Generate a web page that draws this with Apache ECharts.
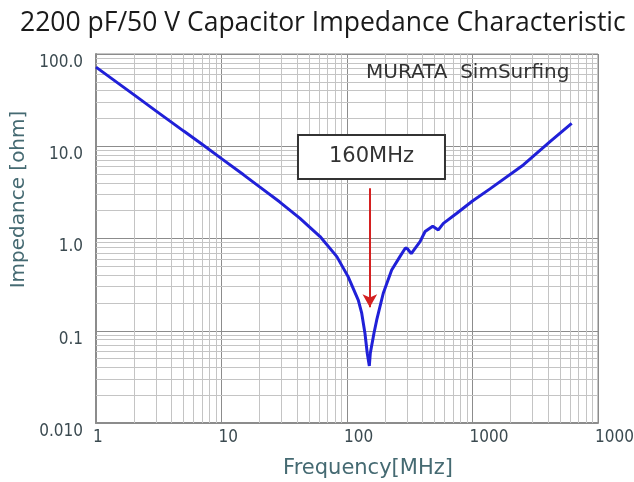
<!DOCTYPE html>
<html>
<head>
<meta charset="utf-8">
<script src="https://cdn.jsdelivr.net/npm/echarts@6/dist/echarts.min.js"></script>
<style>html,body{margin:0;padding:0;background:#fff;}#c{width:634px;height:482px;}</style>
</head>
<body>
<div id="c"></div>
<script>
// Frequency [MHz] and impedance [ohm]
const freq = [1, 2, 3, 5, 7, 10, 15, 20, 29, 42, 61, 83, 102, 112, 123, 131, 139, 145, 150.6, 153.3, 164, 172.5, 194.5, 227, 264, 292, 304, 325, 382, 419, 482, 534, 586, 750, 1000, 1378, 2540, 4147, 6170];
const imp  = [72, 36.3, 24.2, 14.6, 10.5, 7.35, 4.9, 3.65, 2.5, 1.66, 1.05, 0.636, 0.386, 0.288, 0.215, 0.155, 0.094, 0.057, 0.0415, 0.057, 0.094, 0.131, 0.255, 0.456, 0.636, 0.79, 0.77, 0.685, 0.924, 1.19, 1.36, 1.24, 1.46, 1.88, 2.55, 3.45, 6.27, 11.2, 17.7];

// tick labels (indexed by decade exponent)
const xTickLabels = {0: '1', 1: '10', 2: '100', 3: '1000', 4: '10000'};
const yTickLabels = {'-2': '0.010', '-1': '0.1', 0: '1.0', 1: '10.0', 2: '100.0'};

// minor grid values
const minorX = [2,3,4,5,6,7,8,9, 20,30,40,50,60,70,80,90, 200,300,400,500,600,700,800,900, 2000,3000,4000,5000,6000,7000,8000,9000];
const minorY = [0.02,0.03,0.04,0.05,0.06,0.07,0.08,0.09, 0.2,0.3,0.4,0.5,0.6,0.7,0.8,0.9, 2,3,4,5,6,7,8,9, 20,30,40,50,60,70,80,90];

// annotation: resonance marker
const markerLabel = '160MHz';
const arrowFreq = 152;
const arrowFrom = 3.5;
const arrowTo = 0.18;
const boxFreq = 156.7;
const boxImp = 7.65;

const chart = echarts.init(document.getElementById('c'), null, {renderer: 'canvas'});
const lineData = freq.map((f, i) => [f, imp[i]]);
const lg = v => Math.round(Math.log10(v));

const minorLines = minorX.map(v => ({xAxis: v})).concat(minorY.map(v => ({yAxis: v})));
const labelFont = "'DejaVu Sans Condensed', 'Liberation Sans', sans-serif";

chart.setOption({
  animation: false,
  backgroundColor: '#fff',
  title: [{
    text: '2200 pF/50 V Capacitor Impedance Characteristic',
    left: 15,
    top: 5,
    textStyle: {fontFamily: 'Open Sans', fontWeight: 'normal', fontSize: 26.5, color: '#1a1a1a'}
  }, {
    text: 'MURATA  SimSurfing',
    left: 361,
    top: 58,
    textStyle: {fontFamily: 'DejaVu Sans', fontWeight: 'normal', fontSize: 20, color: '#333'}
  }],
  grid: {left: 96, right: 36, top: 54, bottom: 59, containLabel: false, outerBoundsMode: 'none',
         show: true, borderColor: '#8c8c8c', borderWidth: 1, backgroundColor: 'transparent'},
  xAxis: {
    type: 'log', logBase: 10, min: 1, max: 10000, splitNumber: 4,
    name: 'Frequency[MHz]', nameLocation: 'middle', nameGap: 35,
    nameTextStyle: {fontFamily: 'DejaVu Sans', fontSize: 21, color: '#456a72', padding: [0, 0, 0, 42]},
    axisLine: {show: true, lineStyle: {color: '#8c8c8c', width: 2}},
    axisTick: {show: false},
    axisLabel: {
      formatter: v => xTickLabels[lg(v)] ?? '',
      align: 'left', margin: 6, hideOverlap: false, padding: [0, 0, 0, -3],
      fontFamily: labelFont, fontSize: 17, color: '#3b4a50'
    },
    splitLine: {show: true, lineStyle: {color: '#8c8c8c', width: 1}}
  },
  yAxis: {
    type: 'log', logBase: 10, min: 0.01, max: 100, splitNumber: 4,
    name: 'Impedance [ohm]', nameLocation: 'middle', nameGap: 62, nameRotate: 90,
    nameTextStyle: {fontFamily: 'DejaVu Sans', fontSize: 20, color: '#456a72', padding: [0, 0, 0, 78]},
    axisLine: {show: true, lineStyle: {color: '#8c8c8c', width: 2}},
    axisTick: {show: false},
    axisLabel: {
      formatter: v => yTickLabels[lg(v)] ?? '',
      margin: 13, verticalAlign: 'top',
      fontFamily: labelFont, fontSize: 17, color: '#3b4a50'
    },
    splitLine: {show: true, lineStyle: {color: '#8c8c8c', width: 1}}
  },
  series: [{
    type: 'line', z: 1, silent: true, symbol: 'none',
    data: [[1, 1]], lineStyle: {width: 0},
    markLine: {
      z: 1,
      silent: true, symbol: ['none', 'none'], label: {show: false},
      lineStyle: {color: '#c4c4c4', width: 1, type: 'solid'},
      emphasis: {disabled: true},
      data: minorLines
    }
  }, {
    type: 'line', z: 6, silent: true, symbol: 'none', smooth: false,
    data: lineData,
    lineStyle: {color: '#2020d8', width: 3}
  }, {
    type: 'line', z: 7, silent: true, symbol: 'none',
    data: [[boxFreq, boxImp]], lineStyle: {width: 0},
    markLine: {
      z: 7,
      silent: true, symbol: ['none', 'arrow'], symbolSize: [11, 13],
      label: {show: false},
      lineStyle: {color: '#d42020', width: 2, type: 'solid'},
      emphasis: {disabled: true},
      data: [[{coord: [arrowFreq, arrowFrom]}, {coord: [arrowFreq, arrowTo]}]]
    },
    markPoint: {
      z: 7,
      silent: true,
      symbol: 'rect', symbolSize: 1,
      itemStyle: {color: 'transparent'},
      label: {
        show: true, position: 'inside', formatter: markerLabel,
        fontFamily: 'DejaVu Sans', fontSize: 21, color: '#333',
        backgroundColor: '#fff', borderColor: '#333', borderWidth: 2,
        width: 145, height: 42, lineHeight: 42, align: 'center', verticalAlign: 'middle', padding: 0
      },
      data: [{coord: [boxFreq, boxImp]}]
    }
  }]
});
</script>
</body>
</html>
